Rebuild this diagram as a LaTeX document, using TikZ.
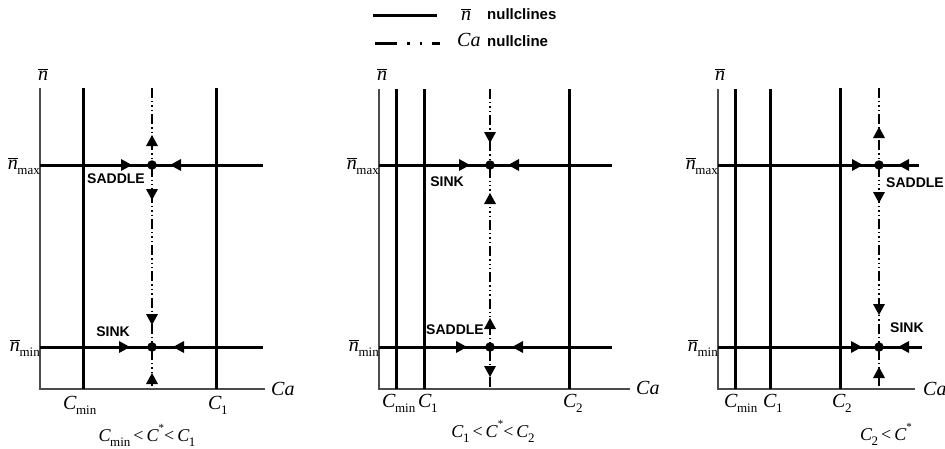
\documentclass[tikz,border=0pt]{standalone}
\usepackage{fontspec}
\setmainfont{Liberation Serif}
\newfontfamily\lsans{Liberation Sans}
\newcommand{\nbr}{\ensuremath{\overline{\mbox{\itshape n}}}}
\newcommand{\mysub}[1]{\raisebox{-0.28em}{\fontsize{13}{13}\selectfont\upshape #1}}
\newcommand{\Cl}[1]{\textit{C}\kern-0.03em\mysub{#1}}
\newcommand{\Nl}[1]{\nbr\kern-0.02em\mysub{#1}}
\newcommand{\Cstar}{\textit{C}\raisebox{0.55em}{\fontsize{11}{11}\selectfont *}}
\begin{document}
\begin{tikzpicture}[x=1pt,y=-1pt,
  lab/.style={font=\fontsize{20}{22}\selectfont, inner sep=0pt},
  captxt/.style={font=\fontsize{18}{20}\selectfont, inner sep=0pt},
  tag/.style={font=\lsans\bfseries\fontsize{14}{16}\selectfont, inner sep=0pt},
  leg/.style={font=\lsans\bfseries\fontsize{15}{17}\selectfont, inner sep=0pt},
  ax/.style={draw=black!70, line width=1.1pt},
  nc/.style={line width=3pt},
  cn/.style={line width=1.4pt, dash pattern=on 10pt off 3pt on 1.4pt off 3pt on 1.4pt off 3pt on 1.4pt off 3pt},
  fp/.style={circle, fill, inner sep=0pt, minimum size=9.5pt},
  aR/.pic={\fill (0,0) -- (-11,-6) -- (-11,6) -- cycle;},
  aL/.pic={\fill (0,0) -- (11,-6) -- (11,6) -- cycle;},
  aU/.pic={\fill (0,0) -- (-6,11) -- (6,11) -- cycle;},
  aD/.pic={\fill (0,0) -- (-6,-11) -- (6,-11) -- cycle;}]
\useasboundingbox (0,0) rectangle (945,448);

% ---------- legend ----------
\coordinate (lg1a) at (373,15); \coordinate (lg1b) at (437,15);
\draw[nc] (lg1a) -- (lg1b);
\node[lab, anchor=base west] (lgt1) at (461,20) {\nbr};
\node[leg, anchor=base west] (lgt1b) at (487,19) {nullclines};
\coordinate (lg2a) at (375,43); \coordinate (lg2b) at (440,43);
\draw[line width=3pt, dash pattern=on 22pt off 10pt on 2.5pt off 10pt on 2.5pt off 10pt on 8pt off 20pt] (lg2a) -- (lg2b);
\node[lab, anchor=base west] (lgt2) at (457,46) {\textit{Ca}};
\node[leg, anchor=base west] (lgt2b) at (487,46) {nullcline};

% ---------- panel 1 ----------
\coordinate (o1) at (40,389); \coordinate (t1) at (40,88); \coordinate (e1) at (265,389);
\draw[ax] (t1) -- (o1) -- (e1);
\node[lab, anchor=base] (ny1) at (43,80) {\nbr};
\node[lab, anchor=base west] (ca1) at (271,395) {\textit{Ca}};
\draw[nc] (83,88) -- (83,389);
\draw[nc] (216,88) -- (216,389);
\draw[cn] (152,88) -- (152,389);
\draw[nc] (40,165) -- (263,165);
\draw[nc] (40,347) -- (263,347);
\node[fp] (p1a) at (152,165) {};
\node[fp] (p1b) at (152,347) {};
\pic at (132,165) {aR}; \pic at (170,165) {aL};
\pic at (152,135) {aU}; \pic at (152,200) {aD};
\pic at (130,347) {aR}; \pic at (173,347) {aL};
\pic at (152,325) {aD}; \pic at (152,373) {aU};
\node[tag, anchor=west] (s1a) at (87,179) {SADDLE};
\node[tag] (s1b) at (113,332) {SINK};
\node[lab, anchor=base east] (nx1) at (40,169) {\Nl{max}};
\node[lab, anchor=base east] (nn1) at (40,351) {\Nl{min}};
\node[lab, anchor=base west] (cm1) at (63,409) {\Cl{min}};
\node[lab, anchor=base west] (c11) at (208,409) {\Cl{1}};
\node[captxt, anchor=base] (cp1) at (147,441) {\Cl{min}\,<\,\Cstar<\,\Cl{1}};

% ---------- panel 2 ----------
\coordinate (o2) at (379,389); \coordinate (t2) at (379,89); \coordinate (e2) at (630,389);
\draw[ax] (t2) -- (o2) -- (e2);
\node[lab, anchor=base] (ny2) at (382,80) {\nbr};
\node[lab, anchor=base west] (ca2) at (636,394) {\textit{Ca}};
\draw[nc] (396,89) -- (396,389);
\draw[nc] (424,89) -- (424,389);
\draw[nc] (569,89) -- (569,389);
\draw[cn] (490,89) -- (490,389);
\draw[nc] (379,165) -- (612,165);
\draw[nc] (379,347) -- (612,347);
\node[fp] (p2a) at (490,165) {};
\node[fp] (p2b) at (490,347) {};
\pic at (470,165) {aR}; \pic at (508,165) {aL};
\pic at (490,143) {aD}; \pic at (490,193) {aU};
\pic at (467,347) {aR}; \pic at (512,347) {aL};
\pic at (490,318) {aU}; \pic at (490,377) {aD};
\node[tag] (s2a) at (447,182) {SINK};
\node[tag] (s2b) at (455,330) {SADDLE};
\node[lab, anchor=base east] (nx2) at (379,169) {\Nl{max}};
\node[lab, anchor=base east] (nn2) at (379,351) {\Nl{min}};
\node[lab, anchor=base west] (cm2) at (382,407) {\Cl{min}};
\node[lab, anchor=base west] (c12) at (418,407) {\Cl{1}};
\node[lab, anchor=base west] (c22) at (563,407) {\Cl{2}};
\node[captxt, anchor=base] (cp2) at (493,437) {\Cl{1}\,<\,\Cstar<\,\Cl{2}};

% ---------- panel 3 ----------
\coordinate (o3) at (718,389); \coordinate (t3) at (718,89); \coordinate (e3) at (915,389);
\draw[ax] (t3) -- (o3) -- (e3);
\node[lab, anchor=base] (ny3) at (720,80) {\nbr};
\node[lab, anchor=base west] (ca3) at (923,395) {\textit{Ca}};
\draw[nc] (735,89) -- (735,389);
\draw[nc] (770,89) -- (770,389);
\draw[nc] (840,88) -- (840,389);
\draw[cn] (879,88) -- (879,389);
\draw[nc] (718,165) -- (919,165);
\draw[nc] (718,347) -- (922,347);
\node[fp] (p3a) at (879,165) {};
\node[fp] (p3b) at (879,347) {};
\pic at (863,165) {aR}; \pic at (898,165) {aL};
\pic at (879,127) {aU}; \pic at (879,203) {aD};
\pic at (862,347) {aR}; \pic at (898,347) {aL};
\pic at (879,315) {aD}; \pic at (879,367) {aU};
\node[tag, anchor=west] (s3a) at (886,183) {SADDLE};
\node[tag, anchor=west] (s3b) at (890,328) {SINK};
\node[lab, anchor=base east] (nx3) at (718,169) {\Nl{max}};
\node[lab, anchor=base east] (nn3) at (718,351) {\Nl{min}};
\node[lab, anchor=base west] (cm3) at (724,407) {\Cl{min}};
\node[lab, anchor=base west] (c13) at (763,407) {\Cl{1}};
\node[lab, anchor=base west] (c23) at (832,407) {\Cl{2}};
\node[captxt, anchor=base] (cp3) at (886,440) {\Cl{2}\,<\,\Cstar};
\end{tikzpicture}
\end{document}
